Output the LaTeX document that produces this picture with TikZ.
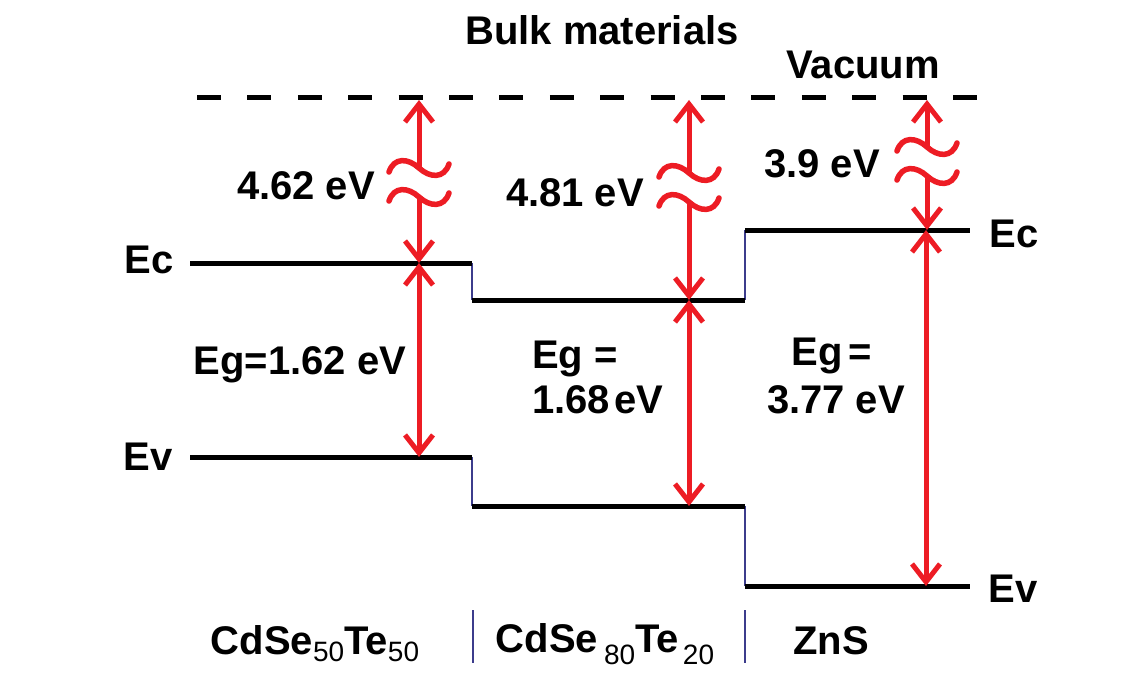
\documentclass[tikz,border=0pt]{standalone}
\usepackage{fontspec}
\setmainfont{Liberation Sans}
\usetikzlibrary{arrows.meta}
\definecolor{arrred}{RGB}{237,28,36}
\definecolor{stepblue}{RGB}{60,60,140}
\newcommand\subnum[2]{{\fontsize{28}{30}\selectfont\mdseries\raisebox{-#1pt}{#2}}}
\begin{document}
\begin{tikzpicture}[x=1pt,y=-1pt,
  lvl/.style={line width=5pt,black},
  stepln/.style={line width=1.5pt,stepblue},
  vac/.style={line width=5pt,black,dash pattern=on 24pt off 26.4pt},
  darr/.style={line width=5pt,arrred,{Straight Barb[length=18pt,width=28pt]}-{Straight Barb[length=18pt,width=28pt]}},
  toparr/.style={line width=5pt,arrred,{Straight Barb[length=18pt,width=28pt]}-},
  botarr/.style={line width=5pt,arrred,-{Straight Barb[length=18pt,width=28pt]}},
  sqs/.style={line width=5.5pt,arrred,line cap=round},
  tilde/.pic={\draw[sqs] (-30,4) .. controls (-25,-11) and (-11,-10) .. (0,0) .. controls (11,10) and (25,11) .. (30,-4);},
  lbl/.style={font=\fontsize{40}{46}\selectfont\bfseries,inner sep=0pt,anchor=base}
]
\useasboundingbox (0,0) rectangle (1143,674);

% vacuum level
\coordinate (v0) at (197,98);
\coordinate (v1) at (977,98);
\draw[vac] (v0) -- (v1);

% band edges
\coordinate (ec1l) at (190,263); \coordinate (ec1r) at (472,263);
\coordinate (ev1l) at (190,457); \coordinate (ev1r) at (472,457);
\coordinate (ec2l) at (472,300); \coordinate (ec2r) at (745,300);
\coordinate (ev2l) at (472,506); \coordinate (ev2r) at (745,506);
\coordinate (ec3l) at (745,230); \coordinate (ec3r) at (970,230);
\coordinate (ev3l) at (745,586); \coordinate (ev3r) at (970,586);

\draw[stepln] (ec1r) -- (ec2l);
\draw[stepln] (ev1r) -- (ev2l);
\draw[stepln] (ec2r) -- (ec3l);
\draw[stepln] (ev2r) -- (ev3l);
\coordinate (s1a) at (473,610); \coordinate (s1b) at (473,663);
\coordinate (s2a) at (745,610); \coordinate (s2b) at (745,663);
\draw[stepln] (s1a) -- (s1b);
\draw[stepln] (s2a) -- (s2b);

\draw[lvl] (ec1l) -- (ec1r);
\draw[lvl] (ev1l) -- (ev1r);
\draw[lvl] (ec2l) -- (ec2r);
\draw[lvl] (ev2l) -- (ev2r);
\draw[lvl] (ec3l) -- (ec3r);
\draw[lvl] (ev3l) -- (ev3r);

% arrows column 1
\coordinate (u1t) at (419,100); \coordinate (u1a) at (419,168);
\coordinate (u1b) at (419,197); \coordinate (u1e) at (419,263);
\coordinate (g1t) at (419,263); \coordinate (g1b) at (419,457);
\draw[toparr] (u1t) -- (u1a);
\draw[botarr] (u1b) -- (u1e);
\pic at (u1a) {tilde};
\pic at (u1b) {tilde};
\draw[darr] (g1t) -- (g1b);

% arrows column 2
\coordinate (u2t) at (689,100); \coordinate (u2a) at (689,173);
\coordinate (u2b) at (689,202); \coordinate (u2e) at (689,300);
\coordinate (g2t) at (689,300); \coordinate (g2b) at (689,506);
\draw[toparr] (u2t) -- (u2a);
\draw[botarr] (u2b) -- (u2e);
\pic at (u2a) {tilde};
\pic at (u2b) {tilde};
\draw[darr] (g2t) -- (g2b);

% arrows column 3
\coordinate (u3t) at (927,100); \coordinate (u3a) at (927,147);
\coordinate (u3b) at (927,176); \coordinate (u3e) at (927,230);
\coordinate (g3t) at (926,230); \coordinate (g3b) at (926,586);
\draw[toparr] (u3t) -- (u3a);
\draw[botarr] (u3b) -- (u3e);
\pic at (u3a) {tilde};
\pic at (u3b) {tilde};
\draw[darr] (g3t) -- (g3b);

% labels
\node[lbl] (bulk) at (602,45) {Bulk materials};
\node[lbl] (vacl) at (863,79) {Vacuum};
\node[lbl] (e462) at (306,199) {4.62 eV};
\node[lbl] (e481) at (575,206) {4.81 eV};
\node[lbl] (e39) at (822,177) {3.9 eV};
\node[lbl] (ecL) at (149,273) {Ec};
\node[lbl] (evL) at (148,470) {Ev};
\node[lbl] (ecR) at (1014,247) {Ec};
\node[lbl] (evR) at (1013,602) {Ev};
\node[lbl] (eg1) at (300,374) {Eg=1.62 eV};
\node[lbl,anchor=base west] (eg2a) at (532,368) {Eg =};
\node[lbl,anchor=base west] (eg2b) at (532,413) {1.68\hspace{4pt}eV};
\node[lbl] (eg3a) at (832,365) {Eg\hspace{6pt}=};
\node[lbl] (eg3b) at (836,413) {3.77 eV};
\node[lbl] (m1) at (315,654) {CdSe\subnum{7}{50}Te\subnum{7}{50}};
\node[lbl] (m2) at (605,652) {CdSe\hspace{6pt}\subnum{12}{80}Te\hspace{4pt}\subnum{12}{20}};
\node[lbl] (m3) at (831,654) {ZnS};
\end{tikzpicture}
\end{document}
